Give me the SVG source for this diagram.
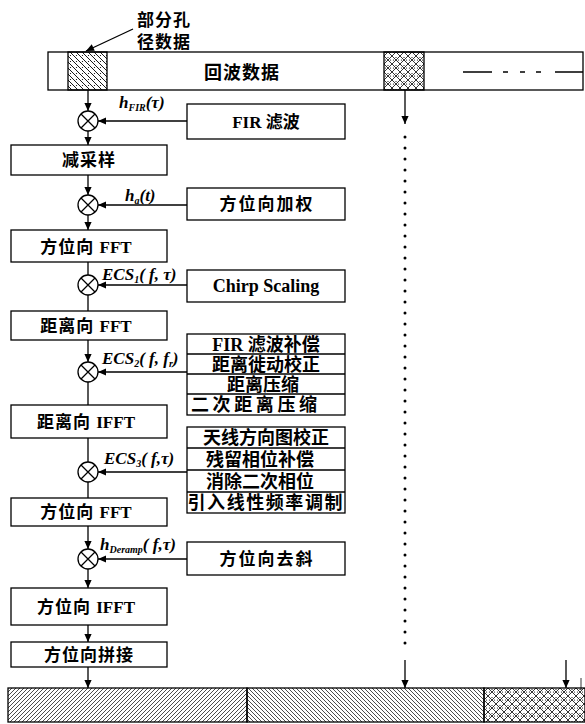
<svg xmlns="http://www.w3.org/2000/svg" width="585" height="724" viewBox="0 0 585 724">
<style>
.bx{fill:#fff;stroke:#000;stroke-width:1.3}
.ln{fill:none;stroke:#000;stroke-width:1.3}
.t{font-family:"Liberation Serif","Noto Sans CJK SC",serif;font-size:17px;font-weight:bold;text-anchor:middle;fill:#000}
.sp{letter-spacing:2px}
.s1{letter-spacing:1px}
.tb{font-size:18px}
.lb{font-family:"Liberation Serif",serif;font-weight:bold;font-style:italic;font-size:17px;fill:#000}
.sb{font-size:10px}
.mul{fill:#fff;stroke:#000;stroke-width:1.3}
</style>
<defs>
<marker id="ah" viewBox="0 0 10 10" refX="10" refY="5" markerWidth="9" markerHeight="8" orient="auto" markerUnits="userSpaceOnUse"><path d="M0,0.5 L10,5 L0,9.5 z" fill="#000"/></marker>
<pattern id="pBd" width="6" height="6" patternUnits="userSpaceOnUse"><path d="M0,0 L6,6 M-1,5 L1,7 M5,-1 L7,1" stroke="#000" stroke-width="0.9"/><circle cx="4.5" cy="1.5" r="0.6" fill="#000"/></pattern>
<pattern id="pX" width="8" height="8" patternUnits="userSpaceOnUse"><path d="M0,0 L8,8 M0,8 L8,0" stroke="#000" stroke-width="0.8"/><circle cx="4" cy="1.5" r="0.6" fill="#000"/><circle cx="1.5" cy="4" r="0.6" fill="#000"/><circle cx="6.5" cy="4" r="0.6" fill="#000"/></pattern>
<pattern id="pF" width="4" height="4" patternUnits="userSpaceOnUse"><path d="M0,4 L4,0 M-1,1 L1,-1 M3,5 L5,3" stroke="#000" stroke-width="0.7"/></pattern>
<pattern id="pB" width="4" height="4" patternUnits="userSpaceOnUse"><path d="M0,0 L4,4 M-1,3 L1,5 M3,-1 L5,1" stroke="#000" stroke-width="0.7"/></pattern>
</defs>

<g id="echo-data">
<rect class="bx" x="48" y="52" width="535" height="38"/>
<rect x="68" y="52" width="39" height="38" fill="url(#pBd)" stroke="#000" stroke-width="1.3"/>
<rect x="384" y="52" width="40" height="38" fill="url(#pX)" stroke="#000" stroke-width="1.3"/>
<text class="t" x="242" y="79" style="font-size:18px;letter-spacing:1px">回波数据</text>
<path class="ln" d="M463,72 H492 M503,72 H508 M520,72 H525 M536,72 H541 M555,72 H583"/>
</g>
<g id="sub-aperture-label">
<text class="t" x="164" y="26" style="letter-spacing:1px">部分孔</text>
<text class="t" x="164" y="48" style="letter-spacing:1px">径数据</text>
</g>

<g id="fir"><rect class="bx" x="187" y="104" width="158" height="35"/><text class="t" x="266" y="128">FIR 滤波</text></g>
<g id="downsample"><rect class="bx" x="11" y="145" width="156" height="30"/><text class="t s1" x="89" y="166">减采样</text></g>
<g id="az-weight"><rect class="bx" x="187" y="188" width="158" height="32"/><text class="t sp" x="267" y="210">方位向加权</text></g>
<g id="az-fft1"><rect class="bx" x="11" y="230" width="156" height="32"/><text class="t" x="86" y="253"><tspan class="s1">方位向 </tspan>FFT</text></g>
<g id="chirp"><rect class="bx" x="187" y="270" width="158" height="32"/><text class="t" x="266" y="292" style="font-size:18px">Chirp Scaling</text></g>
<g id="rg-fft"><rect class="bx" x="11" y="311" width="156" height="29"/><text class="t" x="86" y="332"><tspan class="s1">距离向 </tspan>FFT</text></g>
<g id="table1">
<rect class="bx" x="187" y="334" width="158" height="81"/>
<path class="ln" d="M187,354 H345 M187,374 H345 M187,394 H345"/>
<text class="t tb" x="266" y="351">FIR 滤波补偿</text>
<text class="t tb" x="266" y="371">距离徙动校正</text>
<text class="t tb" x="263" y="391">距离压缩</text>
<text class="t tb" x="254" y="411" textLength="126" lengthAdjust="spacing">二次距离压缩</text>
</g>
<g id="rg-ifft"><rect class="bx" x="11" y="405" width="156" height="33"/><text class="t" x="86" y="428"><tspan class="s1">距离向 </tspan>IFFT</text></g>
<g id="table2">
<rect class="bx" x="187" y="427" width="158" height="86"/>
<path class="ln" d="M187,448 H345 M187,470 H345 M187,492 H345"/>
<text class="t tb" x="266" y="444">天线方向图校正</text>
<text class="t tb" x="260" y="466">残留相位补偿</text>
<text class="t tb" x="260" y="488">消除二次相位</text>
<text class="t tb" x="265" y="509" textLength="155" lengthAdjust="spacing">引入线性频率调制</text>
</g>
<g id="az-fft2"><rect class="bx" x="11" y="498" width="156" height="28"/><text class="t" x="86" y="518"><tspan class="s1">方位向 </tspan>FFT</text></g>
<g id="deramp"><rect class="bx" x="187" y="542" width="158" height="33"/><text class="t sp" x="267" y="565">方位向去斜</text></g>
<g id="az-ifft"><rect class="bx" x="11" y="588" width="156" height="37"/><text class="t" x="86" y="613"><tspan class="s1">方位向 </tspan>IFFT</text></g>
<g id="az-merge"><rect class="bx" x="11" y="642" width="156" height="25"/><text class="t s1" x="89" y="661">方位向拼接</text></g>

<g id="output-bar">
<rect x="8" y="688" width="239" height="34" fill="url(#pF)" stroke="#000" stroke-width="1.3"/>
<rect x="247" y="688" width="237" height="34" fill="url(#pB)" stroke="#000" stroke-width="1.3"/>
<rect x="484" y="688" width="101" height="34" fill="url(#pX)" stroke="#000" stroke-width="1.3"/>
</g>

<g id="multipliers">
<g id="m1"><circle class="mul" cx="88" cy="121" r="10"/><path class="ln" d="M81,114 L95,128 M95,114 L81,128"/></g>
<g id="m2"><circle class="mul" cx="88" cy="205" r="10"/><path class="ln" d="M81,198 L95,212 M95,198 L81,212"/></g>
<g id="m3"><circle class="mul" cx="88" cy="285" r="10"/><path class="ln" d="M81,278 L95,292 M95,278 L81,292"/></g>
<g id="m4"><circle class="mul" cx="88" cy="372" r="10"/><path class="ln" d="M81,365 L95,379 M95,365 L81,379"/></g>
<g id="m5"><circle class="mul" cx="88" cy="472" r="10"/><path class="ln" d="M81,465 L95,479 M95,465 L81,479"/></g>
<g id="m6"><circle class="mul" cx="88" cy="559" r="10"/><path class="ln" d="M81,552 L95,566 M95,552 L81,566"/></g>
</g>

<g id="connectors">
<path class="ln" d="M133,29 L86,51" marker-end="url(#ah)"/>
<path class="ln" d="M88,90 V111" marker-end="url(#ah)"/>
<path class="ln" d="M88,131 V145" marker-end="url(#ah)"/>
<path class="ln" d="M88,175 V195" marker-end="url(#ah)"/>
<path class="ln" d="M88,215 V230" marker-end="url(#ah)"/>
<path class="ln" d="M88,262 V275 M88,295 V311"/>
<path class="ln" d="M88,340 V362" marker-end="url(#ah)"/>
<path class="ln" d="M88,382 V405 M88,438 V462 M88,482 V498"/>
<path class="ln" d="M88,526 V549" marker-end="url(#ah)"/>
<path class="ln" d="M88,569 V588" marker-end="url(#ah)"/>
<path class="ln" d="M88,625 V642" marker-end="url(#ah)"/>
<path class="ln" d="M88,667 V688" marker-end="url(#ah)"/>
<path class="ln" d="M187,121 H98" marker-end="url(#ah)"/>
<path class="ln" d="M187,205 H98" marker-end="url(#ah)"/>
<path class="ln" d="M187,285 H98" marker-end="url(#ah)"/>
<path class="ln" d="M187,372 H98" marker-end="url(#ah)"/>
<path class="ln" d="M187,472 H98" marker-end="url(#ah)"/>
<path class="ln" d="M187,559 H98" marker-end="url(#ah)"/>
<path class="ln" d="M405,90 V124" marker-end="url(#ah)"/>
<path d="M405,137 V646" fill="none" stroke="#000" stroke-width="3" stroke-linecap="round" stroke-dasharray="0 11"/>
<path class="ln" d="M405,660 V688" marker-end="url(#ah)"/>
<path class="ln" d="M566,660 V688" marker-end="url(#ah)"/>
<path d="M581,678 V690" stroke="#000" stroke-width="0.8"/>
</g>

<g id="labels">
<text class="lb" x="119" y="108">h<tspan class="sb" dy="3">FIR</tspan><tspan dy="-3">(τ)</tspan></text>
<text class="lb" x="125" y="201">h<tspan class="sb" dy="3">a</tspan><tspan dy="-3">(t)</tspan></text>
<text class="lb" x="102" y="280">ECS<tspan class="sb" dy="3">1</tspan><tspan dy="-3">( f, τ)</tspan></text>
<text class="lb" x="102" y="364">ECS<tspan class="sb" dy="3">2</tspan><tspan dy="-3">( f, f</tspan><tspan class="sb" dy="3">r</tspan><tspan dy="-3">)</tspan></text>
<text class="lb" x="104" y="464">ECS<tspan class="sb" dy="3">3</tspan><tspan dy="-3">( f,τ)</tspan></text>
<text class="lb" x="100" y="550">h<tspan class="sb" dy="3">Deramp</tspan><tspan dy="-3">( f,τ)</tspan></text>
</g>
</svg>
